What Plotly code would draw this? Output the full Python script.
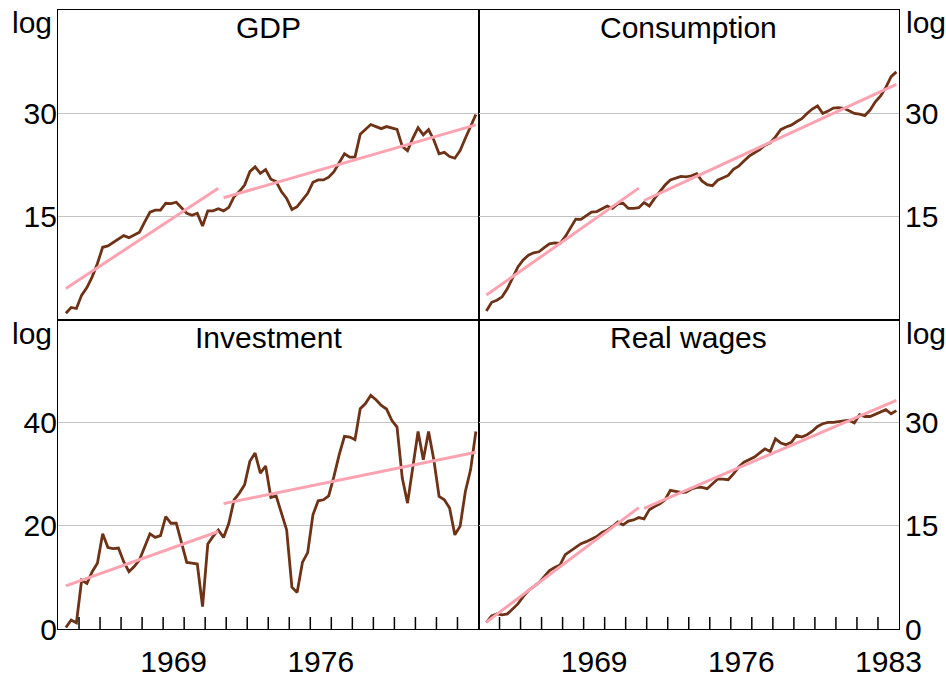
"""Four-panel chart: log levels with split linear trends, 1964-1983."""

import pandas as pd
import plotly.graph_objects as go

# quarterly observations, 1964Q2 .. 1983Q4
QUARTERS = pd.period_range("1964Q2", "1983Q4", freq="Q")

GDP = [
    0.9, 1.75, 1.6, 3.55, 4.65, 6.2, 8.15, 10.5, 10.7, 11.2,
    11.65, 12.2, 11.9, 12.3, 12.7, 14.2, 15.6, 15.9, 15.9, 16.9,
    16.85, 17.05, 16.2, 15.45, 15.15, 15.45, 13.6, 15.8, 15.8, 16.1,
    15.8, 16.3, 17.85, 18.6, 19.55, 21.5, 22.2, 21.25, 21.8, 20.4,
    20.05, 18.6, 17.6, 16.0, 16.4, 17.4, 18.35, 19.95, 20.3, 20.3,
    20.7, 21.5, 22.85, 24.1, 23.6, 23.6, 26.95, 27.6, 28.35, 28.05,
    27.75, 28.05, 27.85, 27.65, 25.15, 24.55, 26.35, 27.9, 26.85, 27.6,
    26.1, 24.1, 24.3, 23.7, 23.45, 24.55, 26.35, 28.05, 29.8,
]
CONSUMPTION = [
    1.25, 2.5, 2.8, 3.3, 4.5, 6.0, 7.65, 8.65, 9.35, 9.7,
    9.85, 10.45, 11.0, 11.15, 11.05, 12.05, 13.4, 14.6, 14.55, 15.05,
    15.6, 15.7, 16.1, 16.5, 16.15, 16.8, 16.9, 16.15, 16.15, 16.25,
    17.0, 16.5, 17.6, 18.6, 19.55, 20.3, 20.55, 20.8, 20.75, 20.9,
    21.2, 20.15, 19.6, 19.45, 20.25, 20.6, 20.95, 21.85, 22.3, 23.05,
    23.75, 24.25, 24.7, 25.35, 25.7, 26.55, 27.6, 28.0, 28.25, 28.75,
    29.2, 29.95, 30.6, 31.05, 29.95, 30.3, 30.75, 30.8, 30.7, 30.35,
    29.95, 29.85, 29.65, 30.45, 31.65, 32.5, 33.75, 35.3, 36.0,
]
INVESTMENT = [
    0.3, 1.75, 1.2, 9.5, 8.85, 11.1, 12.75, 18.45, 15.8, 15.6,
    15.7, 13.05, 11.1, 12.1, 13.4, 16.0, 18.45, 17.75, 18.1, 21.8,
    20.5, 20.5, 16.95, 12.9, 12.75, 12.6, 4.35, 16.5, 17.95, 19.2,
    17.75, 20.5, 25.05, 26.35, 27.95, 32.5, 34.1, 30.2, 31.6, 25.5,
    25.8, 22.45, 19.2, 8.1, 7.1, 12.9, 14.8, 22.15, 24.85, 25.05,
    25.8, 29.6, 33.8, 37.35, 37.2, 36.7, 42.7, 43.7, 45.3, 44.45,
    43.35, 42.65, 40.45, 39.15, 29.25, 24.4, 31.2, 38.3, 32.8, 38.3,
    32.8, 25.7, 25.05, 23.45, 18.25, 19.9, 26.65, 30.9, 38.3,
]
REAL_WAGES = [
    0.97, 1.9, 2.2, 2.05, 2.2, 2.9, 3.65, 4.7, 5.6, 6.15,
    6.75, 7.6, 8.5, 8.95, 9.3, 10.8, 11.35, 11.9, 12.4, 12.7,
    13.05, 13.45, 14.05, 14.4, 14.9, 15.55, 15.15, 15.7, 15.85, 16.2,
    16.0, 17.35, 17.8, 18.2, 18.8, 20.15, 20.0, 19.85, 19.9, 20.35,
    20.6, 20.6, 20.4, 21.1, 21.8, 21.8, 21.7, 22.55, 23.55, 24.25,
    24.6, 25.0, 25.6, 26.2, 25.8, 27.65, 27.05, 26.8, 27.15, 28.15,
    27.9, 28.25, 28.75, 29.45, 29.85, 30.05, 30.05, 30.2, 30.25, 30.35,
    29.95, 31.15, 30.9, 30.9, 31.25, 31.65, 31.9, 31.3, 31.75,
]

# trend segments: (start quarter, end quarter) and fitted values at each end
TREND_PERIODS = [("1964Q2", "1971Q3"), ("1971Q4", "1983Q4")]
GDP_TREND = [(4.5, 19.1), (17.7, 28.3)]
CONSUMPTION_TREND = [(3.55, 19.1), (17.3, 34.2)]
INVESTMENT_TREND = [(8.35, 18.9), (24.3, 34.25)]
REAL_WAGES_TREND = [(1.0, 17.65), (17.55, 33.25)]

YEAR_TICKS = list(range(1965, 1984))
LABEL_YEARS = ["1969", "1976", "1983"]

BROWN = "#6E3216"
PINK = "#FBA3B0"
GRID = "#c4c4c4"
FONT = "Arial, Liberation Sans, sans-serif"
FSIZE = 30
TICK_FRAC = 0.039  # yearly tick length as a share of the panel height (~12px)


def _dec(q: str | pd.Period) -> float:
    """Quarter -> decimal year at mid-quarter."""
    p = pd.Period(q, freq="Q")
    return p.year + (p.quarter - 0.5) / 4


x_vals = [_dec(q) for q in QUARTERS]
# year labels sit in the middle of their year, between the yearly ticks
label_pos = [int(y) + 0.5 for y in LABEL_YEARS]

panels = [
    ("GDP", GDP, GDP_TREND, "x", "y"),
    ("Consumption", CONSUMPTION, CONSUMPTION_TREND, "x2", "y2"),
    ("Investment", INVESTMENT, INVESTMENT_TREND, "x3", "y3"),
    ("Real wages", REAL_WAGES, REAL_WAGES_TREND, "x4", "y4"),
]

fig = go.Figure()
for name, series, trend, xa, ya in panels:
    fig.add_trace(
        go.Scatter(
            x=x_vals, y=series, mode="lines", xaxis=xa, yaxis=ya,
            line={"color": BROWN, "width": 2.8}, showlegend=False,
        )
    )
    for (q0, q1), (v0, v1) in zip(TREND_PERIODS, trend):
        fig.add_trace(
            go.Scatter(
                x=[_dec(q0), _dec(q1)], y=[v0, v1], mode="lines",
                xaxis=xa, yaxis=ya,
                line={"color": PINK, "width": 3}, showlegend=False,
            )
        )

# yearly tick marks pointing up from the bottom edge of the lower panels
for xa, ya in [("x3", "y3"), ("x4", "y4")]:
    for yr in YEAR_TICKS:
        fig.add_shape(
            type="line", xref=xa, yref=f"{ya} domain",
            x0=yr, x1=yr, y0=0, y1=TICK_FRAC,
            line={"color": "black", "width": 1.5}, layer="above",
        )

frame = {
    "showline": True, "mirror": True, "linecolor": "black", "linewidth": 1.2,
    "zeroline": False, "automargin": False,
}
xbase = {
    **frame, "range": [1964, 1984], "showgrid": False, "fixedrange": True,
    "ticks": "",
}
ybase = {
    **frame, "showgrid": True, "gridcolor": GRID, "gridwidth": 1,
    "ticks": "", "tickfont": {"size": FSIZE},
}
xlabels = {"tickfont": {"size": FSIZE}, "ticklabelstandoff": 6}

fig.update_layout(
    width=946, height=678,
    margin={"l": 58, "r": 47, "t": 10, "b": 49},
    paper_bgcolor="white", plot_bgcolor="white",
    font={"family": FONT, "size": FSIZE, "color": "black"},
    xaxis={**xbase, "domain": [0, 0.5], "anchor": "y", "showticklabels": False},
    xaxis2={**xbase, "domain": [0.5, 1], "anchor": "y2", "showticklabels": False},
    xaxis3={**xbase, **xlabels, "domain": [0, 0.5], "anchor": "y3",
            "tickvals": label_pos[:2], "ticktext": LABEL_YEARS[:2]},
    xaxis4={**xbase, **xlabels, "domain": [0.5, 1], "anchor": "y4",
            "tickvals": label_pos, "ticktext": LABEL_YEARS},
    yaxis={**ybase, "domain": [0.5, 1], "anchor": "x", "range": [0, 45],
           "tickvals": [15, 30], "ticklabelstandoff": -6},
    yaxis2={**ybase, "domain": [0.5, 1], "anchor": "x2", "side": "right",
            "range": [0, 45], "tickvals": [15, 30], "ticklabelstandoff": -1},
    yaxis3={**ybase, "domain": [0, 0.5], "anchor": "x3", "range": [0, 60],
            "tickvals": [0, 20, 40], "ticklabelstandoff": -6},
    yaxis4={**ybase, "domain": [0, 0.5], "anchor": "x4", "side": "right",
            "range": [0, 45], "tickvals": [0, 15, 30], "ticklabelstandoff": -1},
)

# panel titles and "log" unit labels
titles = [("GDP", 0.25, 0.972), ("Consumption", 0.75, 0.972),
          ("Investment", 0.25, 0.471), ("Real wages", 0.75, 0.471)]
for text, x, y in titles:
    fig.add_annotation(text=text, x=x, y=y, xref="paper", yref="paper",
                       xanchor="center", yanchor="middle", showarrow=False,
                       font={"size": FSIZE})

for x, xanchor in [(-0.005, "right"), (1.006, "left")]:
    for y in (0.979, 0.478):
        fig.add_annotation(text="log", x=x, y=y, xref="paper", yref="paper",
                           xanchor=xanchor, yanchor="middle", showarrow=False,
                           font={"size": FSIZE})

# drop the browser's default 8px body margin so the figure fills the window
fig.write_html(
    "out.html",
    config={"displayModeBar": False},
    post_script="document.body.style.margin = '0';",
)
